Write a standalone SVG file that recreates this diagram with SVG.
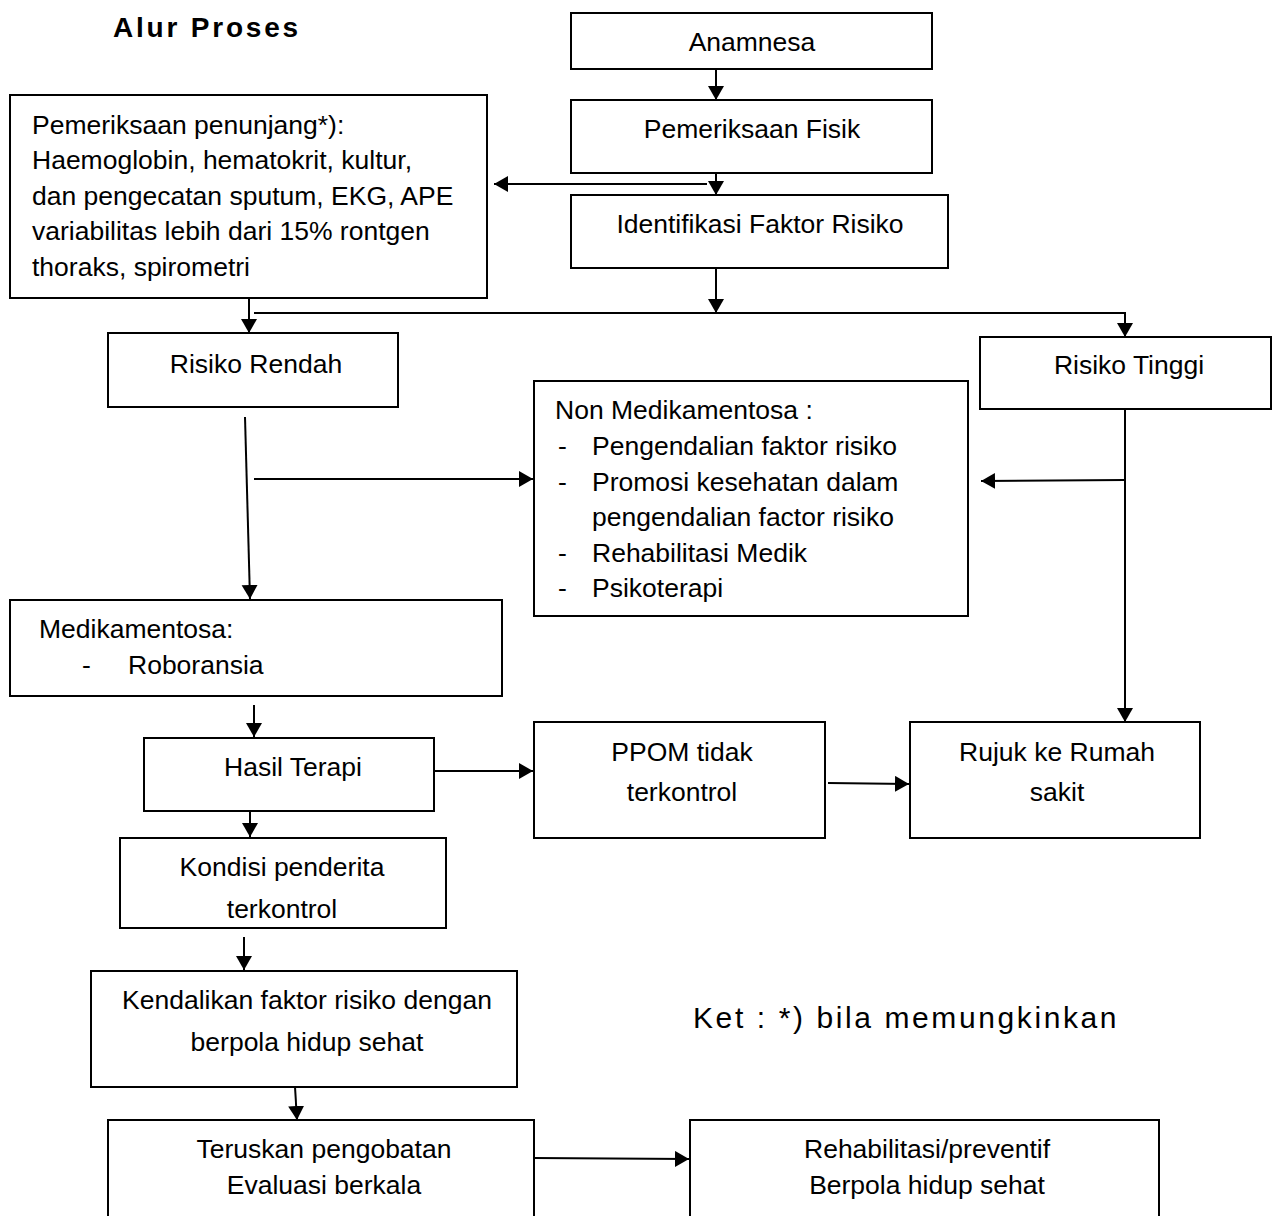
<svg xmlns="http://www.w3.org/2000/svg" width="1277" height="1216" viewBox="0 0 1277 1216">
<style>
.box{fill:#fff;stroke:#000;stroke-width:2}
.t{font-family:"Liberation Sans",Arial,sans-serif;font-size:26.5px;fill:#000}
.c{text-anchor:middle}
.ln{fill:none;stroke:#000;stroke-width:2}
</style>
<defs>
<marker id="ah" markerUnits="userSpaceOnUse" markerWidth="16" markerHeight="18" refX="14" refY="8" orient="auto">
<path d="M0,0 L14,8 L0,16 z" fill="#000"/>
</marker>
</defs>
<rect width="1277" height="1216" fill="#fff"/>
<text x="113" y="37" font-family="Liberation Sans,Arial,sans-serif" font-size="28" font-weight="bold" letter-spacing="2.8">Alur Proses</text>
<text x="693" y="1028" font-family="Liberation Sans,Arial,sans-serif" font-size="30" letter-spacing="2.6">Ket : *) bila memungkinkan</text>

<g id="connectors">
<line class="ln" x1="716" y1="69" x2="716" y2="100" marker-end="url(#ah)"/>
<line class="ln" x1="716" y1="173" x2="716" y2="195" marker-end="url(#ah)"/>
<line class="ln" x1="707" y1="184" x2="494" y2="184" marker-end="url(#ah)"/>
<line class="ln" x1="716" y1="268" x2="716" y2="313" marker-end="url(#ah)"/>
<polyline class="ln" points="254,313 1125,313 1125,337" marker-end="url(#ah)"/>
<line class="ln" x1="249" y1="292" x2="249" y2="333" marker-end="url(#ah)"/>
<line class="ln" x1="245" y1="417" x2="250" y2="599" marker-end="url(#ah)"/>
<line class="ln" x1="254" y1="479" x2="533" y2="479" marker-end="url(#ah)"/>
<line class="ln" x1="1125" y1="406" x2="1125" y2="722" marker-end="url(#ah)"/>
<line class="ln" x1="1125" y1="480" x2="981" y2="481" marker-end="url(#ah)"/>
<line class="ln" x1="254" y1="705" x2="254" y2="737" marker-end="url(#ah)"/>
<line class="ln" x1="434" y1="771" x2="533" y2="771" marker-end="url(#ah)"/>
<line class="ln" x1="250" y1="810" x2="250" y2="837" marker-end="url(#ah)"/>
<line class="ln" x1="828" y1="783" x2="909" y2="784" marker-end="url(#ah)"/>
<line class="ln" x1="244" y1="937" x2="244" y2="970" marker-end="url(#ah)"/>
<line class="ln" x1="295" y1="1087" x2="297" y2="1120" marker-end="url(#ah)"/>
<line class="ln" x1="534" y1="1158" x2="689" y2="1159" marker-end="url(#ah)"/>
</g>

<g id="anamnesa">
<rect class="box" x="571" y="13" width="361" height="56"/>
<text class="t c" x="752" y="51">Anamnesa</text>
</g>
<g id="pemeriksaan-fisik">
<rect class="box" x="571" y="100" width="361" height="73"/>
<text class="t c" x="752" y="138">Pemeriksaan Fisik</text>
</g>
<g id="identifikasi">
<rect class="box" x="571" y="195" width="377" height="73"/>
<text class="t c" x="760" y="233">Identifikasi Faktor Risiko</text>
</g>
<g id="penunjang">
<rect class="box" x="10" y="95" width="477" height="203"/>
<text class="t" x="32" y="134">Pemeriksaan penunjang*):</text>
<text class="t" x="32" y="169">Haemoglobin, hematokrit, kultur,</text>
<text class="t" x="32" y="205">dan pengecatan sputum, EKG, APE</text>
<text class="t" x="32" y="240">variabilitas lebih dari 15% rontgen</text>
<text class="t" x="32" y="276">thoraks, spirometri</text>
</g>
<g id="risiko-rendah">
<rect class="box" x="108" y="333" width="290" height="74"/>
<text class="t c" x="256" y="373">Risiko Rendah</text>
</g>
<g id="risiko-tinggi">
<rect class="box" x="980" y="337" width="291" height="72"/>
<text class="t c" x="1129" y="374">Risiko Tinggi</text>
</g>
<g id="non-medikamentosa">
<rect class="box" x="534" y="381" width="434" height="235"/>
<text class="t" x="555" y="419">Non Medikamentosa :</text>
<text class="t" x="558" y="455">-</text><text class="t" x="592" y="455">Pengendalian faktor risiko</text>
<text class="t" x="558" y="491">-</text><text class="t" x="592" y="491">Promosi kesehatan dalam</text>
<text class="t" x="592" y="526">pengendalian factor risiko</text>
<text class="t" x="558" y="562">-</text><text class="t" x="592" y="562">Rehabilitasi Medik</text>
<text class="t" x="558" y="597">-</text><text class="t" x="592" y="597">Psikoterapi</text>
</g>
<g id="medikamentosa">
<rect class="box" x="10" y="600" width="492" height="96"/>
<text class="t" x="39" y="638">Medikamentosa:</text>
<text class="t" x="82" y="674">-</text><text class="t" x="128" y="674">Roboransia</text>
</g>
<g id="hasil-terapi">
<rect class="box" x="144" y="738" width="290" height="73"/>
<text class="t c" x="293" y="776">Hasil Terapi</text>
</g>
<g id="ppom">
<rect class="box" x="534" y="722" width="291" height="116"/>
<text class="t c" x="682" y="761">PPOM tidak</text>
<text class="t c" x="682" y="801">terkontrol</text>
</g>
<g id="rujuk">
<rect class="box" x="910" y="722" width="290" height="116"/>
<text class="t c" x="1057" y="761">Rujuk ke Rumah</text>
<text class="t c" x="1057" y="801">sakit</text>
</g>
<g id="kondisi">
<rect class="box" x="120" y="838" width="326" height="90"/>
<text class="t c" x="282" y="876">Kondisi penderita</text>
<text class="t c" x="282" y="918">terkontrol</text>
</g>
<g id="kendalikan">
<rect class="box" x="91" y="971" width="426" height="116"/>
<text class="t c" x="307" y="1009">Kendalikan faktor risiko dengan</text>
<text class="t c" x="307" y="1051">berpola hidup sehat</text>
</g>
<g id="teruskan">
<rect class="box" x="108" y="1120" width="426" height="110"/>
<text class="t c" x="324" y="1158">Teruskan pengobatan</text>
<text class="t c" x="324" y="1194">Evaluasi berkala</text>
</g>
<g id="rehabilitasi">
<rect class="box" x="690" y="1120" width="469" height="110"/>
<text class="t c" x="927" y="1158">Rehabilitasi/preventif</text>
<text class="t c" x="927" y="1194">Berpola hidup sehat</text>
</g>
</svg>
